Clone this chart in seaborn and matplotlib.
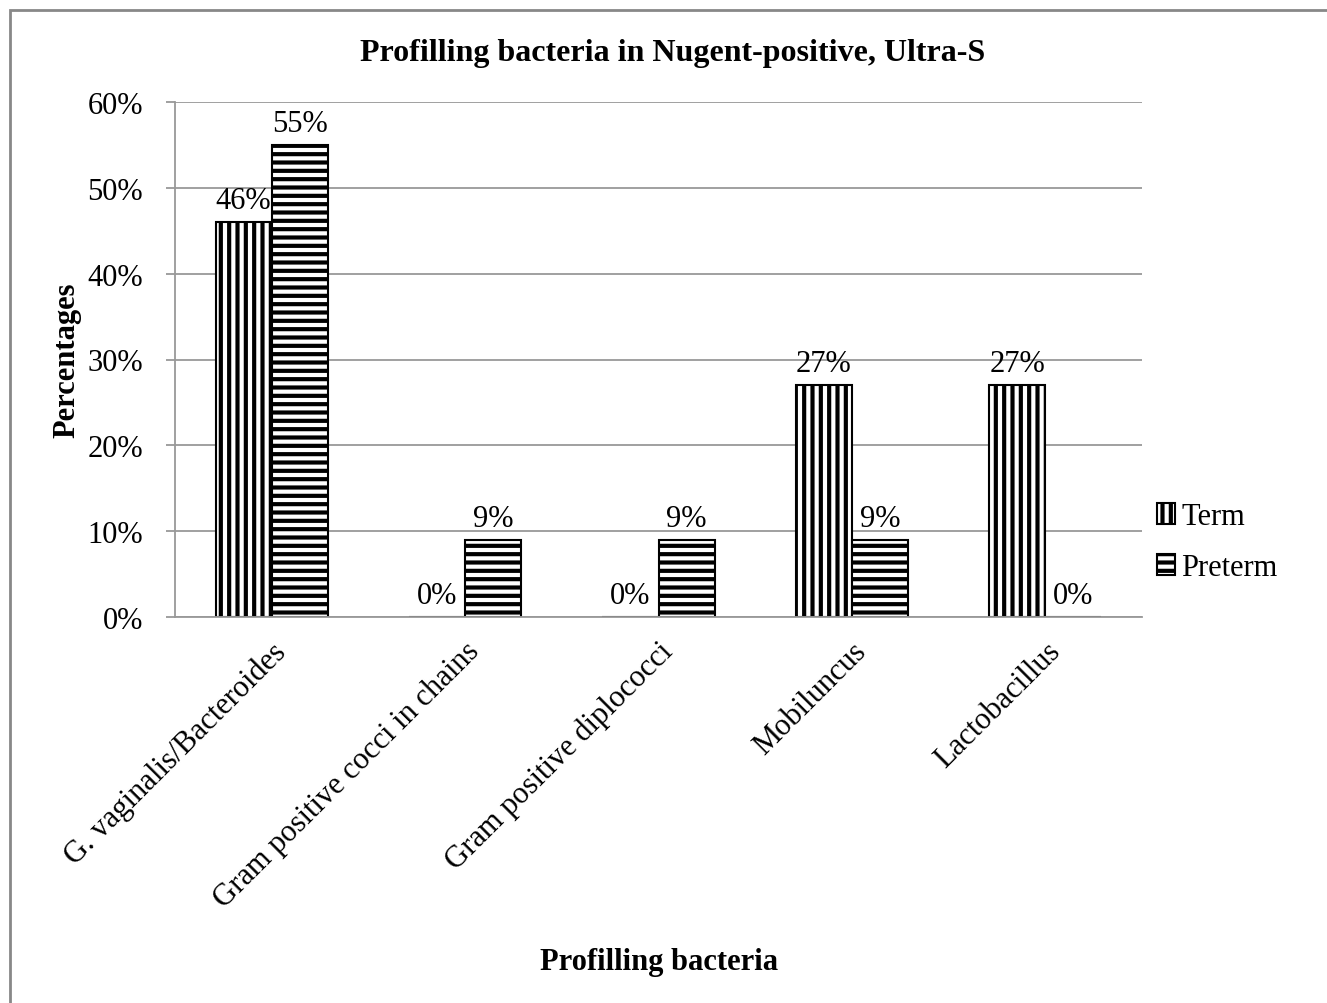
import matplotlib
matplotlib.use("Agg")
import matplotlib.pyplot as plt
import seaborn as sns
import pandas as pd
from matplotlib.patches import Rectangle

categories = ["G. vaginalis/Bacteroides", "Gram positive cocci in chains",
              "Gram positive diplococci", "Mobiluncus", "Lactobacillus"]
term = [46, 0, 0, 27, 27]
preterm = [55, 9, 9, 9, 0]
groups = ["Term", "Preterm"]
yticks = [0, 10, 20, 30, 40, 50, 60]

df = pd.DataFrame({
    "category": categories * 2,
    "group": [groups[0]] * len(categories) + [groups[1]] * len(categories),
    "value": term + preterm,
})

sns.set_theme(style="white", rc={
    "text.color": "black", "axes.labelcolor": "black",
    "xtick.color": "black", "ytick.color": "black",
})
plt.rcParams["font.family"] = ["Liberation Serif", "DejaVu Serif"]
plt.rcParams["hatch.linewidth"] = 3.0
plt.rcParams["hatch.color"] = "black"

FS = 22

fig = plt.figure(figsize=(13.27, 10.04), dpi=100)
ax = fig.add_axes([175 / 1327, 1 - 618 / 1004, (1142 - 175) / 1327, (618 - 103) / 1004])

sns.barplot(data=df, x="category", y="value", hue="group", order=categories,
            hue_order=groups, palette=["white", "white"], edgecolor="black",
            linewidth=1.5, width=0.58, ax=ax, legend=False, saturation=1)

hatches = ["||", "--"]
for cont, h in zip(ax.containers, hatches):
    for bar in cont:
        bar.set_hatch(h)
        bar.set_edgecolor("black")
    ax.bar_label(cont, labels=[f"{v:.0f}%" for v in cont.datavalues],
                 padding=5, fontsize=FS, color="black")

ax.set_ylim(0, 60)
ax.set_yticks(yticks)
ax.set_yticklabels([f"{t}%" for t in yticks], fontsize=FS)
ax.set_xlim(-0.5, len(categories) - 0.5)
ax.set_xticks(range(len(categories)))
ax.set_xticklabels(categories, rotation=45, ha="right", rotation_mode="anchor",
                   fontsize=FS)
ax.tick_params(axis="x", length=0, pad=14)
ax.tick_params(axis="y", length=6.5, width=1.3, color="#999999",
               direction="out", left=True, pad=16.5)

ax.grid(axis="y", color="#999999", linewidth=1.3)
ax.set_axisbelow(True)
for side in ["top", "right"]:
    ax.spines[side].set_visible(False)
for side in ["left", "bottom"]:
    ax.spines[side].set_color("#999999")
    ax.spines[side].set_linewidth(1.3)

ax.set_xlabel("Profilling bacteria", fontsize=FS, fontweight="bold")
ax.xaxis.set_label_coords(0.497, 0.056, transform=fig.transFigure)
ax.set_ylabel("Percentages", fontsize=FS, fontweight="bold")
ax.yaxis.set_label_coords(0.061, 1 - 360 / 1004, transform=fig.transFigure)

fig.text(0.507, 0.947, "Profilling bacteria in Nugent-positive, Ultra-S",
         ha="center", va="center", fontsize=23, fontweight="bold")

handles = [Rectangle((0, 0), 1, 1, facecolor="white", edgecolor="black",
                     hatch=h, linewidth=1.5) for h in hatches]
fig.legend(handles, groups, loc="center left", bbox_to_anchor=(0.851, 0.459),
           frameon=False, fontsize=FS, handlelength=0.6, handleheight=0.65,
           handletextpad=0.2, labelspacing=0.72)

fig.patches.append(Rectangle((10 / 1327, -0.01), 1.02, 1 - 11 / 1004 + 0.01,
                             transform=fig.transFigure, fill=False,
                             edgecolor="#888888", linewidth=2.0))

fig.savefig("out.png", dpi=100)
